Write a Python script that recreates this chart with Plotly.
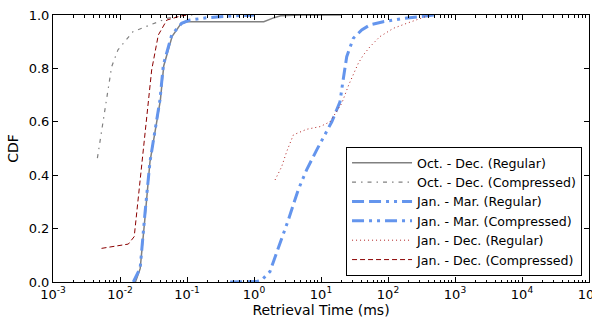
import plotly.graph_objects as go

# Oct. - Dec. (Regular)
od_reg_x = [0.017, 0.02, 0.024, 0.028, 0.04, 0.045, 0.06, 0.08, 0.1, 0.5, 1.4, 2.0, 2.5, 5, 20]
od_reg_y = [0.0, 0.05, 0.26, 0.45, 0.68, 0.81, 0.92, 0.965, 0.975, 0.975, 0.975, 0.99, 0.997, 1.0, 1.0]
# Oct. - Dec. (Compressed)
od_cmp_x = [0.0046, 0.006, 0.0075, 0.0093, 0.0156, 0.028, 0.05, 0.08, 0.12]
od_cmp_y = [0.464, 0.65, 0.806, 0.869, 0.9375, 0.9625, 0.987, 0.998, 1.0]
# Jan. - Mar. (Regular)
jm_reg_x = [0.44, 0.8, 1.1, 1.3, 1.73, 1.95, 3.25, 4.57, 6.1, 8.6, 12.2, 14.5, 17.1, 19.2,
            21.4, 24.2, 30.4, 40.5, 53.8, 85, 170, 500]
jm_reg_y = [0, 0, 0.002, 0.007, 0.039, 0.076, 0.232, 0.345, 0.42, 0.494, 0.563, 0.60, 0.644, 0.675,
            0.757, 0.844, 0.913, 0.944, 0.963, 0.975, 0.987, 1.0]
# Jan. - Mar. (Compressed)
jm_cmp_x = [0.0158, 0.02, 0.0236, 0.028, 0.0395, 0.0444, 0.059, 0.083, 0.11, 0.2, 0.5, 1.0]
jm_cmp_y = [0, 0.052, 0.258, 0.45, 0.682, 0.813, 0.925, 0.969, 0.981, 0.99, 0.997, 1.0]
# Jan. - Dec. (Regular)
jd_reg_x = [2.06, 2.59, 3.07, 3.87, 6.1, 9.7, 13.6, 17, 20.4, 25.9, 30.4, 36, 42.8, 53.8,
            75.6, 120, 191, 302, 426]
jd_reg_y = [0.382, 0.432, 0.488, 0.551, 0.572, 0.582, 0.60, 0.638, 0.669, 0.738, 0.781, 0.819,
            0.85, 0.881, 0.919, 0.95, 0.969, 0.987, 1.0]
# Jan. - Dec. (Compressed)
jd_cmp_x = [0.0053, 0.0133, 0.0163, 0.021, 0.0264, 0.0297, 0.0373, 0.05, 0.08, 0.1]
jd_cmp_y = [0.126, 0.142, 0.17, 0.432, 0.682, 0.794, 0.925, 0.981, 0.996, 1.0]

x_tickvals = [1e-3, 1e-2, 1e-1, 1e0, 1e1, 1e2, 1e3, 1e4, 1e5]
x_ticktext = ["10<sup>-3</sup>", "10<sup>-2</sup>", "10<sup>-1</sup>", "10<sup>0</sup>",
              "10<sup>1</sup>", "10<sup>2</sup>", "10<sup>3</sup>", "10<sup>4</sup>",
              "10<sup>5</sup>"]
y_tickvals = [0.0, 0.2, 0.4, 0.6, 0.8, 1.0]

blue = "#6495ED"
gray = "#808080"

fig = go.Figure()
fig.add_trace(go.Scatter(x=od_reg_x, y=od_reg_y, mode="lines", name="Oct. - Dec. (Regular)",
                         line=dict(color=gray, width=1.5)))
fig.add_trace(go.Scatter(x=od_cmp_x, y=od_cmp_y, mode="lines", name="Oct. - Dec. (Compressed)",
                         line=dict(color=gray, width=1.2, dash="4px,5px,1.5px,5px")))
fig.add_trace(go.Scatter(x=jm_reg_x, y=jm_reg_y, mode="lines", name="Jan. - Mar. (Regular)",
                         line=dict(color=blue, width=3, dash="12px,5px,12px,5px,3px,5px,3px,5px")))
fig.add_trace(go.Scatter(x=jm_cmp_x, y=jm_cmp_y, mode="lines", name="Jan. - Mar. (Compressed)",
                         line=dict(color=blue, width=3, dash="12px,5px,3px,5px,3px,5px")))
fig.add_trace(go.Scatter(x=jd_reg_x, y=jd_reg_y, mode="lines", name="Jan. - Dec. (Regular)",
                         line=dict(color="#b22222", width=1, dash="1px,3px")))
fig.add_trace(go.Scatter(x=jd_cmp_x, y=jd_cmp_y, mode="lines", name="Jan. - Dec. (Compressed)",
                         line=dict(color="#8b0000", width=1, dash="5px,3px")))

fig.update_layout(
    width=592, height=322,
    margin=dict(l=53, r=3, t=15, b=40),
    paper_bgcolor="white", plot_bgcolor="white",
    font=dict(family="DejaVu Sans", size=13, color="black"),
    showlegend=True,
    legend=dict(x=0.987, y=0.0225, xanchor="right", yanchor="bottom",
                bgcolor="white", bordercolor="black", borderwidth=1,
                font=dict(size=12.6), tracegroupgap=0, itemwidth=60),
)
fig.update_xaxes(
    type="log", range=[-3, 5], tickvals=x_tickvals, ticktext=x_ticktext, automargin=False,
    ticklabeloverflow="allow",
    showgrid=False, zeroline=False, showline=True, linecolor="black", linewidth=1,
    mirror="ticks", ticks="inside", ticklen=5, tickcolor="black",
    minor=dict(ticks="inside", ticklen=2.5, tickcolor="black", dtick="D1", showgrid=False),
    title=dict(text="Retrieval Time (ms)", font=dict(size=14), standoff=2),
    tickfont=dict(size=13),
)
fig.update_yaxes(
    range=[0, 1], tickvals=y_tickvals, tickformat=".1f", automargin=False,
    showgrid=False, zeroline=False, showline=True, linecolor="black", linewidth=1,
    mirror="ticks", ticks="inside", ticklen=5, tickcolor="black",
    title=dict(text="CDF", font=dict(size=14), standoff=6),
    tickfont=dict(size=13),
)
fig.write_html("out.html", post_script="document.body.style.margin='0';",
               config={"displayModeBar": False})
